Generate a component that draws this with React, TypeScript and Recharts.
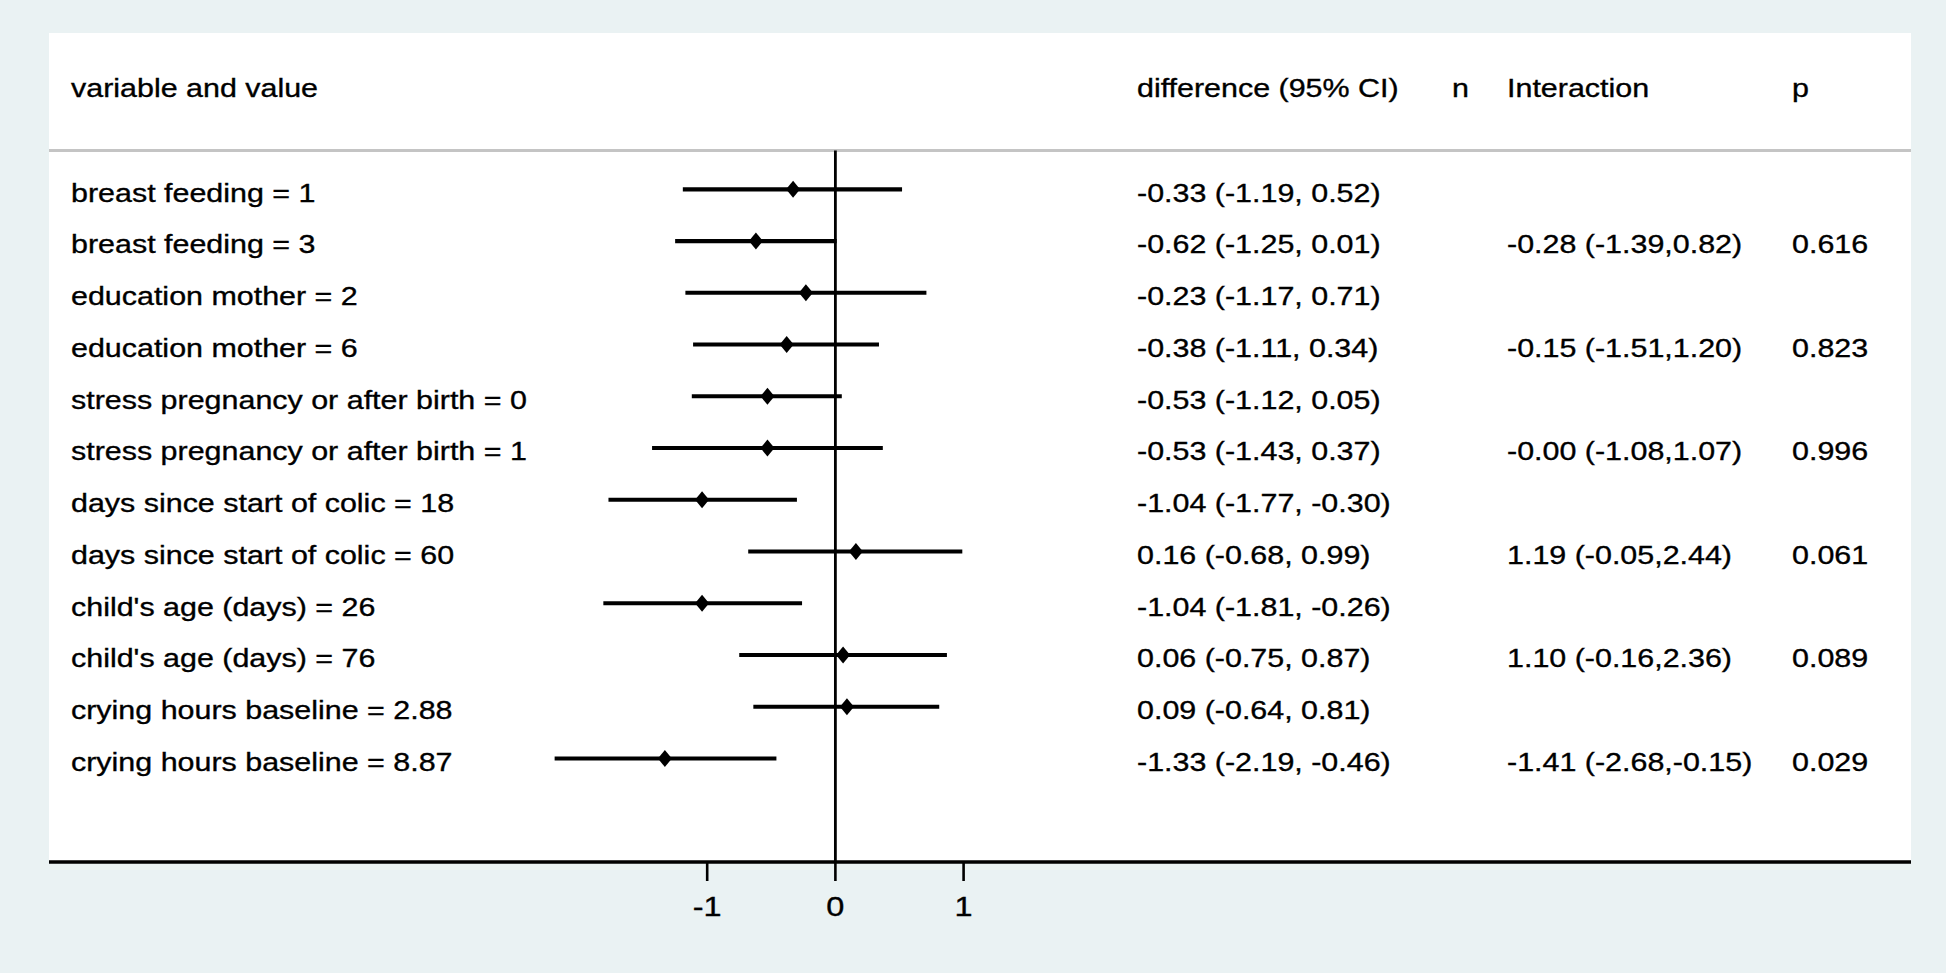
import React from "react";
import { ComposedChart, Scatter, XAxis, YAxis, ErrorBar, ReferenceLine, CartesianGrid } from "recharts";

// subgroup rows, top to bottom
const labels = [
  "breast feeding = 1",
  "breast feeding = 3",
  "education mother = 2",
  "education mother = 6",
  "stress pregnancy or after birth = 0",
  "stress pregnancy or after birth = 1",
  "days since start of colic = 18",
  "days since start of colic = 60",
  "child's age (days) = 26",
  "child's age (days) = 76",
  "crying hours baseline = 2.88",
  "crying hours baseline = 8.87",
];
const estimates = [-0.33, -0.62, -0.23, -0.38, -0.53, -0.53, -1.04, 0.16, -1.04, 0.06, 0.09, -1.33];
const lower = [-1.19, -1.25, -1.17, -1.11, -1.12, -1.43, -1.77, -0.68, -1.81, -0.75, -0.64, -2.19];
const upper = [0.52, 0.01, 0.71, 0.34, 0.05, 0.37, -0.3, 0.99, -0.26, 0.87, 0.81, -0.46];
const interaction = [
  "", "-0.28 (-1.39,0.82)",
  "", "-0.15 (-1.51,1.20)",
  "", "-0.00 (-1.08,1.07)",
  "", "1.19 (-0.05,2.44)",
  "", "1.10 (-0.16,2.36)",
  "", "-1.41 (-2.68,-0.15)",
];
const pValues = ["", "0.616", "", "0.823", "", "0.996", "", "0.061", "", "0.089", "", "0.029"];
const headers = ["variable and value", "difference (95% CI)", "n", "Interaction", "p"];
const xTicks = [-1, 0, 1];

if (typeof document !== "undefined") document.body.style.margin = "0";

const FONT = "'Liberation Sans', Arial, Helvetica, sans-serif";
const STRETCH = 1.14;
const COLS = [71, 1137, 1452, 1507, 1792];

const fmt = (v: number) => v.toFixed(2);

const rows = labels.map((label, i) => ({
  row: i,
  est: estimates[i],
  err: [estimates[i] - lower[i], upper[i] - estimates[i]],
  label,
  diff: `${fmt(estimates[i])} (${fmt(lower[i])}, ${fmt(upper[i])})`,
  inter: interaction[i],
  p: pValues[i],
  zero: 0,
}));
const headerRow = [{ zero: 0, row: -2.03 }];

function T({ x, y, children, size = 26.7, anchor = "start" }: any) {
  return (
    <text
      transform={`translate(${x},${y}) scale(${STRETCH},1)`}
      fontSize={size}
      fontFamily={FONT}
      fill="#000"
      stroke="#000"
      strokeWidth={0.35}
      textAnchor={anchor}
    >
      {children}
    </text>
  );
}

const Diamond = (props: any) => {
  const { cx, cy } = props;
  if (cx == null || cy == null) return null;
  return <polygon points={`${cx - 7},${cy} ${cx},${cy - 8.5} ${cx + 7},${cy} ${cx},${cy + 8.5}`} fill="#000" />;
};

const RowText = (props: any) => {
  const { cy, payload } = props;
  const b = cy + 12.4;
  return (
    <g>
      <T x={COLS[0]} y={b}>{payload.label}</T>
      <T x={COLS[1]} y={b}>{payload.diff}</T>
      {payload.inter ? <T x={COLS[3]} y={b}>{payload.inter}</T> : null}
      {payload.p ? <T x={COLS[4]} y={b}>{payload.p}</T> : null}
    </g>
  );
};

const HeaderText = (props: any) => {
  const { cy } = props;
  const b = cy + 12.4;
  return (
    <g>
      {headers.map((h, i) => (
        <T key={h} x={COLS[i]} y={b}>{h}</T>
      ))}
    </g>
  );
};

const Tick = (props: any) => {
  const { x, y, payload } = props;
  return <T x={x} y={y + 35} size={28.5} anchor="middle">{payload.value}</T>;
};

export default function App() {
  return (
    <div style={{ width: 1946, height: 973, background: "#EAF2F3" }}>
      <ComposedChart width={1946} height={973} margin={{ top: 33, right: 35, bottom: 51, left: 49 }}>
        <CartesianGrid fill="#ffffff" fillOpacity={1} horizontal={false} vertical={false} />
        <XAxis
          type="number"
          dataKey="est"
          domain={[-6.134, 8.39]}
          allowDataOverflow
          ticks={xTicks}
          height={60}
          tickSize={19}
          tickMargin={0}
          axisLine={{ stroke: "#000", strokeWidth: 3.5 }}
          tickLine={{ stroke: "#000", strokeWidth: 2.6 }}
          tick={<Tick />}
        />
        <YAxis type="number" dataKey="row" domain={[-3.02, 13]} reversed hide allowDataOverflow />
        <ReferenceLine y={-0.75} stroke="#c4c4c4" strokeWidth={3} />
        <ReferenceLine
          segment={[{ x: 0, y: -0.75 }, { x: 0, y: 13 }]}
          stroke="#000"
          strokeWidth={2.8}
        />
        <Scatter data={headerRow} dataKey="zero" shape={<HeaderText />} isAnimationActive={false} />
        <Scatter data={rows} dataKey="zero" shape={<RowText />} isAnimationActive={false} />
        <Scatter data={rows} dataKey="est" shape={<Diamond />} isAnimationActive={false}>
          <ErrorBar direction="x" dataKey="err" width={0} stroke="#000" strokeWidth={4.2} isAnimationActive={false} />
        </Scatter>
      </ComposedChart>
    </div>
  );
}
